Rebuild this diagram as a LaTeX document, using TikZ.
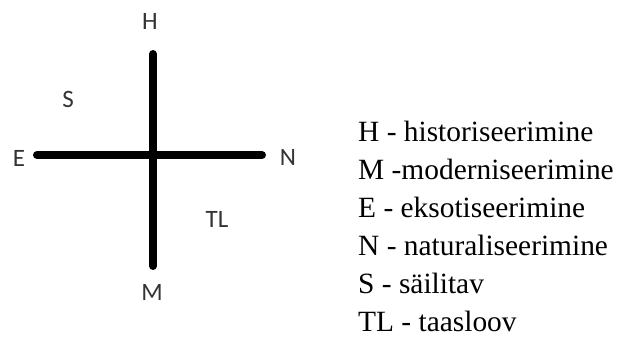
\documentclass[tikz,border=0pt]{standalone}
\usepackage{fontspec}
\setmainfont{Liberation Serif}
\newfontfamily\lblfont{Carlito}
\begin{document}
\begin{tikzpicture}[x=1pt,y=-1pt,
  axis/.style={line width=8pt,line cap=round},
  lbl/.style={font=\lblfont\fontsize{25}{28}\selectfont,inner sep=0pt,anchor=base,text=black!80},
  leg/.style={font=\fontsize{29.4}{34}\selectfont,inner sep=0pt,anchor=base west}]
\useasboundingbox (0,0) rectangle (619,337);
\coordinate (top) at (153,54);
\coordinate (bot) at (153,266);
\coordinate (left) at (37,155);
\coordinate (right) at (262,155);
\draw[axis] (top) -- (bot);
\draw[axis] (left) -- (right);
\node[lbl] (H) at (150,30) {H};
\node[lbl] (M) at (152,300) {M};
\node[lbl] (E) at (19,166) {E};
\node[lbl] (N) at (288,165) {N};
\node[lbl] (S) at (68,107) {S};
\node[lbl] (TL) at (217,227) {TL};
\node[leg] (l1) at (358,142) {H - historiseerimine};
\node[leg] (l2) at (358,179.8) {M -moderniseerimine};
\node[leg] (l3) at (358,217.6) {E - eksotiseerimine};
\node[leg] (l4) at (358,255.4) {N - naturaliseerimine};
\node[leg] (l5) at (358,293.2) {S - säilitav};
\node[leg] (l6) at (358,331) {TL - taasloov};
\end{tikzpicture}
\end{document}
